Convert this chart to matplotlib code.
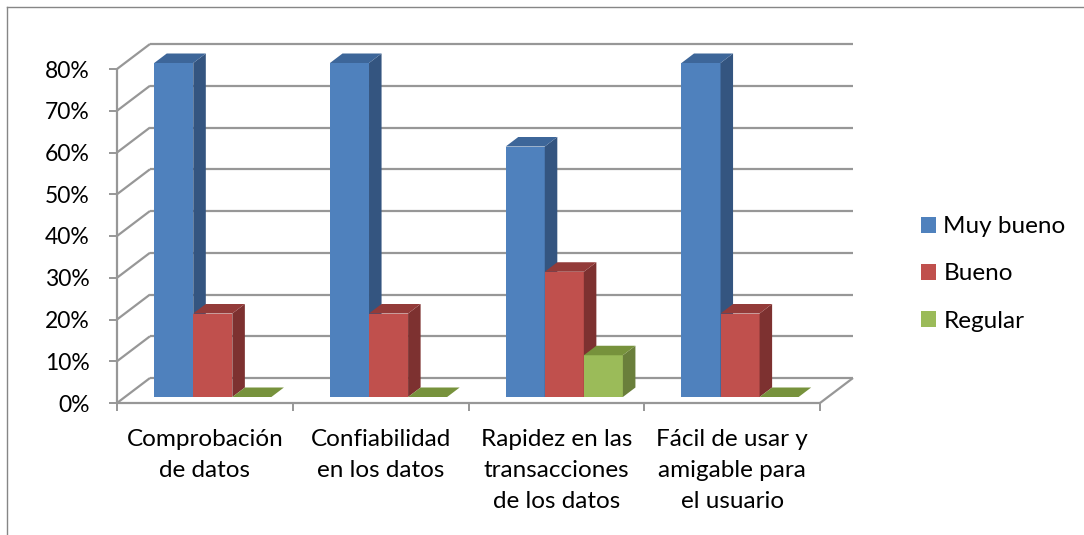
import matplotlib.pyplot as plt
from matplotlib.patches import Polygon, Patch
from matplotlib.lines import Line2D

categories = ["Comprobación\nde datos", "Confiabilidad\nen los datos",
              "Rapidez en las\ntransacciones\nde los datos",
              "Fácil de usar y\namigable para\nel usuario"]
series = ["Muy bueno", "Bueno", "Regular"]
muy_bueno = [80, 80, 60, 80]
bueno = [20, 20, 30, 20]
regular = [0, 0, 10, 0]
y_ticks = [0, 10, 20, 30, 40, 50, 60, 70, 80]

# colores estilo Office: frente, lado, tapa
faces = {
    "Muy bueno": ("#4F81BD", "#345580", "#3D6699"),
    "Bueno": ("#C0504D", "#7D3130", "#933B39"),
    "Regular": ("#9BBB59", "#6A7F3B", "#77923C"),
}
GRID = "#979797"
FONT = "Lato"

W, H = 1084, 535
fig = plt.figure(figsize=(W / 100, H / 100), dpi=100)
fig.patch.set_facecolor("white")

# plano frontal del grafico 3D
ax = fig.add_axes([117 / W, (H - 403) / H, (820 - 117) / W, (403 - 69) / H])
ax.set_xlim(-0.5, 3.5)
ax.set_ylim(0, 80)
ax.patch.set_alpha(0)
for s in ax.spines.values():
    s.set_visible(False)

# desplazamiento de profundidad (unidades de datos por unidad de fondo)
DX = 33 / 175.75
DY = 25 / 4.175


def proj(x, v, z):
    return (x + z * DX, v + z * DY)


def seg(p, q, **kw):
    ax.add_line(Line2D([p[0], q[0]], [p[1], q[1]], color=GRID, lw=1.6,
                       clip_on=False, solid_capstyle="butt", **kw))


# pared del fondo, pared izquierda y piso
for v in y_ticks:
    seg(proj(-0.5, v, 1), proj(3.5, v, 1), zorder=1)
    seg(proj(-0.5, v, 0), proj(-0.5, v, 1), zorder=1)
seg(proj(3.5, 0, 0), proj(3.5, 0, 1), zorder=1)
seg(proj(-0.5, 0, 0), proj(3.5, 0, 0), zorder=1)
seg(proj(-0.5, 0, 0), proj(-0.5, 80, 0), zorder=1)

# barras 3D
values = [muy_bueno, bueno, regular]
w = 1 / 4.5
z0, z1 = 0.24, 0.62
for ci in range(len(categories)):
    for si, name in enumerate(series):
        v = values[si][ci]
        front, side, top = faces[name]
        x0 = ci - 1.5 * w + si * w
        x1 = x0 + w
        zo = 3 + ci * 3 + si
        if v > 0:
            ax.add_patch(Polygon([proj(x0, 0, z0), proj(x1, 0, z0),
                                  proj(x1, v, z0), proj(x0, v, z0)],
                                 closed=True, fc=front, ec="none",
                                 clip_on=False, zorder=zo))
            ax.add_patch(Polygon([proj(x1, 0, z0), proj(x1, v, z0),
                                  proj(x1, v, z1), proj(x1, 0, z1)],
                                 closed=True, fc=side, ec="none",
                                 clip_on=False, zorder=zo))
        ax.add_patch(Polygon([proj(x0, v, z0), proj(x1, v, z0),
                              proj(x1, v, z1), proj(x0, v, z1)],
                             closed=True, fc=top, ec="none",
                             clip_on=False, zorder=zo))

# ejes
ax.set_yticks(y_ticks)
ax.set_yticklabels([f"{t}%" for t in y_ticks], fontsize=16.5, family=FONT)
ax.set_xticks([-0.5, 0.5, 1.5, 2.5, 3.5])
ax.set_xticklabels([])
ax.tick_params(axis="y", direction="out", length=6, width=1.4, color=GRID, pad=13.5)
ax.tick_params(axis="x", direction="out", length=6, width=1.4, color=GRID)

for ci, lab in enumerate(categories):
    ax.annotate(lab, xy=(ci, 0), xytext=(0, -19), textcoords="offset points",
                ha="center", va="top", fontsize=17.5, family=FONT,
                linespacing=1.58, annotation_clip=False)

# leyenda
handles = [Patch(facecolor=faces[n][0], edgecolor="none", label=n) for n in series]
fig.legend(handles=handles, loc="center left", bbox_to_anchor=(921 / W, (H - 274) / H),
           frameon=False, borderpad=0, borderaxespad=0, handlelength=0.62,
           handleheight=0.62, handletextpad=0.3, labelspacing=1.08,
           prop={"family": FONT, "size": 17.5})

# borde del area del grafico
fig.add_artist(Line2D([7 / W, 7 / W], [0, 1 - 7 / H], color="#868686", lw=1))
fig.add_artist(Line2D([7 / W, 1], [1 - 7 / H, 1 - 7 / H], color="#868686", lw=1))

fig.savefig("out.png", dpi=100)
